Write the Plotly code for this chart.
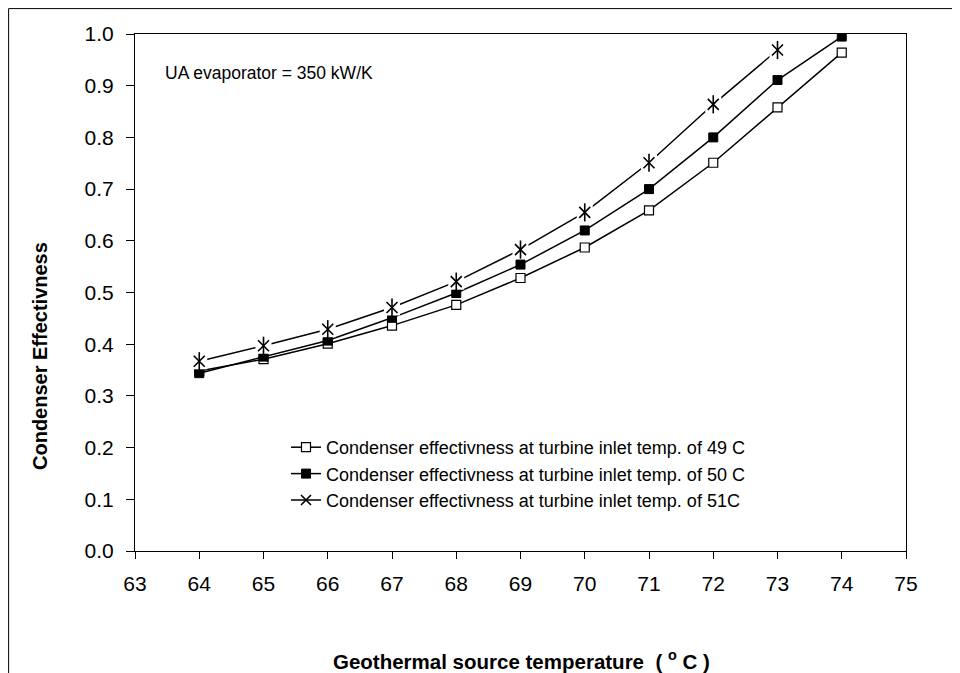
import plotly.graph_objects as go

# ---- data ----
x_temp = [64, 65, 66, 67, 68, 69, 70, 71, 72, 73, 74]
eff_49 = [0.348, 0.371, 0.401, 0.436, 0.476, 0.528, 0.587, 0.659, 0.751, 0.858, 0.964]
eff_50 = [0.344, 0.376, 0.407, 0.451, 0.499, 0.554, 0.620, 0.700, 0.800, 0.911, 0.995]
x_temp_51 = [64, 65, 66, 67, 68, 69, 70, 71, 72, 73]
eff_51 = [0.367, 0.397, 0.429, 0.471, 0.521, 0.583, 0.655, 0.751, 0.864, 0.969]

names = [
    "Condenser effectivness at turbine inlet temp. of 49 C",
    "Condenser effectivness at turbine inlet temp. of 50 C",
    "Condenser effectivness at turbine inlet temp. of 51C",
]
x_ticks = list(range(63, 76))
y_ticks = [round(i * 0.1, 1) for i in range(11)]

FONT = "Liberation Sans, Arial, sans-serif"
LW = 1.5

# page body has an 8px margin; plot area should sit at x 135..906, y 34..551 of the window
OFF = 8
L, T, PW, PH = 135 - OFF, 34 - OFF, 771, 517
W, H = 960 - OFF, 673 - OFF

def px(xw):
    return (xw - 135) / PW

def py(yw):
    return (551 - yw) / PH

fig = go.Figure()

fig.add_trace(go.Scatter(
    x=x_temp, y=eff_49, name=names[0], mode="lines+markers",
    line=dict(color="black", width=LW),
    marker=dict(symbol="square", size=9, color="white", line=dict(color="black", width=1.2)),
    legendgroup="a",
))
fig.add_trace(go.Scatter(
    x=x_temp, y=eff_50, name=names[1], mode="lines+markers",
    line=dict(color="black", width=LW),
    marker=dict(symbol="square", size=9, color="black", line=dict(color="black", width=1)),
    legendgroup="b",
))
# 51 C: line, white gap patches, then star markers (X plus vertical stroke)
fig.add_trace(go.Scatter(
    x=x_temp_51, y=eff_51, name=names[2], mode="lines+markers",
    line=dict(color="black", width=LW),
    marker=dict(symbol="x-thin-open", size=10, color="black", line=dict(color="black", width=1.6)),
    legendgroup="c",
))
fig.add_trace(go.Scatter(
    x=x_temp_51, y=eff_51, mode="markers", showlegend=False, hoverinfo="skip",
    marker=dict(symbol="square", size=16, color="white", line=dict(width=0)),
))
fig.add_trace(go.Scatter(
    x=x_temp_51, y=eff_51, mode="markers", showlegend=False, hoverinfo="skip",
    marker=dict(symbol="x-thin-open", size=11, color="black", line=dict(color="black", width=1.6)),
))
fig.add_trace(go.Scatter(
    x=x_temp_51, y=eff_51, mode="markers", showlegend=False, hoverinfo="skip",
    marker=dict(symbol="line-ns-open", size=13, color="black", line=dict(color="black", width=1.6)),
))

fig.update_layout(
    width=W, height=H,
    margin=dict(l=L, r=W - L - PW, t=T, b=H - T - PH, pad=0),
    paper_bgcolor="white", plot_bgcolor="white",
    font=dict(family=FONT, color="black"),
    showlegend=True,
    legend=dict(
        x=px(286), y=py(429), xanchor="left", yanchor="top",
        bgcolor="rgba(0,0,0,0)", borderwidth=0,
        font=dict(family=FONT, size=18, color="black"),
        tracegroupgap=0, traceorder="grouped",
    ),
)

fig.update_xaxes(
    range=[63, 75], tickvals=x_ticks, ticktext=[str(v) for v in x_ticks],
    showgrid=False, zeroline=False,
    showline=True, linecolor="black", linewidth=1, mirror=True,
    ticks="outside", ticklen=7, tickwidth=1, tickcolor="black",
    tickfont=dict(family=FONT, size=21, color="black"),
    ticklabelstandoff=7,
)
fig.update_yaxes(
    range=[0, 1], tickvals=y_ticks, ticktext=[f"{v:.1f}" for v in y_ticks],
    showgrid=False, zeroline=False,
    showline=True, linecolor="black", linewidth=1, mirror=True,
    ticks="outside", ticklen=8, tickwidth=1, tickcolor="black",
    tickfont=dict(family=FONT, size=21, color="black"),
    ticklabelstandoff=8,
)

# outer chart-area frame (left and top edges visible inside the window)
fig.add_shape(type="rect", xref="paper", yref="paper",
              x0=px(8.6), x1=1.3, y0=-0.5, y1=py(8.6),
              line=dict(color="black", width=1), fillcolor="rgba(0,0,0,0)", layer="below")

fig.add_annotation(
    text="UA evaporator = 350 kW/K", xref="paper", yref="paper",
    x=px(163), y=py(73), xanchor="left", yanchor="middle",
    showarrow=False, font=dict(family=FONT, size=17.5, color="black"),
)
fig.add_annotation(
    text="<b>Condenser Effectivness</b>", xref="paper", yref="paper",
    x=px(40), y=py(356), xanchor="center", yanchor="middle",
    textangle=-90, showarrow=False, font=dict(family=FONT, size=20, color="black"),
)
fig.add_annotation(
    text="<b>Geothermal source temperature  ( <sup>o</sup> C )</b>", xref="paper", yref="paper",
    x=px(521), y=py(660), xanchor="center", yanchor="middle",
    showarrow=False, font=dict(family=FONT, size=20.5, color="black"),
)

fig.write_html("out.html")
